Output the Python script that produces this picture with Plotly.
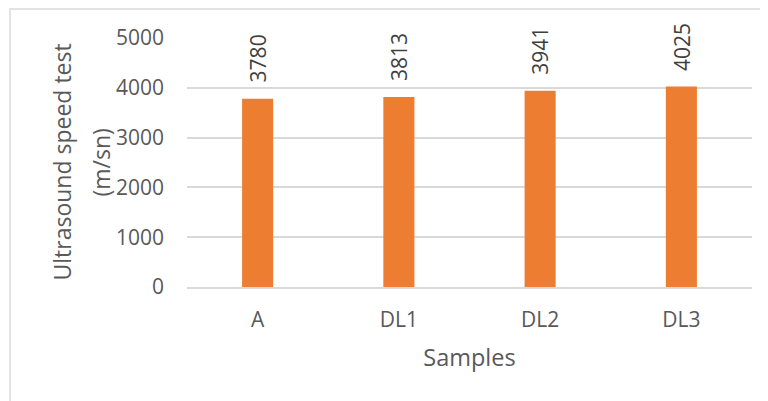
import plotly.graph_objects as go

categories = ["A", "DL1", "DL2", "DL3"]
speeds = [3780, 3813, 3941, 4025]
y_ticks = [0, 1000, 2000, 3000, 4000, 5000]

# page has an 8px body margin, so the figure is drawn 8px right/down
OFF = 8
W, H = 768 - OFF, 401 - OFF
L, R, T, B = 187 - OFF, 16, 38 - OFF, 114
pw = W - L - R
ph = H - T - B

font_family = "Open Sans, Calibri, sans-serif"
grey = "#595959"

fig = go.Figure()
fig.add_trace(go.Bar(
    x=categories, y=speeds,
    marker=dict(color="#ED7D31", line=dict(width=0)),
    width=0.22,
    hoverinfo="x+y",
))

annotations = []
for c, v in zip(categories, speeds):
    annotations.append(dict(
        x=c, y=v, xref="x", yref="y", text=str(v), showarrow=False,
        textangle=-90, xanchor="center", yanchor="bottom", yshift=14,
        font=dict(family=font_family, size=21, color="#404040"),
    ))

# y axis title (two lines)
annotations.append(dict(
    x=(61 - 187) / pw, y=0.5, xref="paper", yref="paper",
    text="Ultrasound speed test", showarrow=False, textangle=-90,
    xanchor="center", yanchor="middle",
    font=dict(family=font_family, size=23, color=grey),
))
annotations.append(dict(
    x=(100 - 187) / pw, y=0.5, xref="paper", yref="paper",
    text="(m/sn)", showarrow=False, textangle=-90,
    xanchor="center", yanchor="middle",
    font=dict(family=font_family, size=23, color=grey),
))

fig.update_layout(
    width=W, height=H,
    margin=dict(l=L, r=R, t=T, b=B, pad=0),
    paper_bgcolor="white", plot_bgcolor="white",
    showlegend=False,
    annotations=annotations,
    shapes=[dict(
        type="rect", xref="paper", yref="paper",
        x0=(10 - 187) / pw, x1=(820 - 187) / pw,
        y0=(287 - 440) / ph, y1=(287 - 9) / ph,
        line=dict(color="#D9D9D9", width=1.5), fillcolor="rgba(0,0,0,0)",
        layer="below",
    )],
    xaxis=dict(
        type="category", range=[-0.5, 3.5],
        showgrid=False, showline=True, linecolor="#D9D9D9", linewidth=1.5,
        ticks="", ticklabelstandoff=13,
        tickfont=dict(family=font_family, size=21, color=grey),
        title=dict(text="Samples", standoff=18,
                   font=dict(family=font_family, size=23.5, color=grey)),
    ),
    yaxis=dict(
        range=[0, 5000], tickvals=y_ticks,
        showgrid=True, gridcolor="#D9D9D9", gridwidth=1.5,
        zeroline=False, showline=False,
        ticks="", ticklabelstandoff=22,
        tickfont=dict(family=font_family, size=21, color=grey),
    ),
)

fig.write_html("out.html")
